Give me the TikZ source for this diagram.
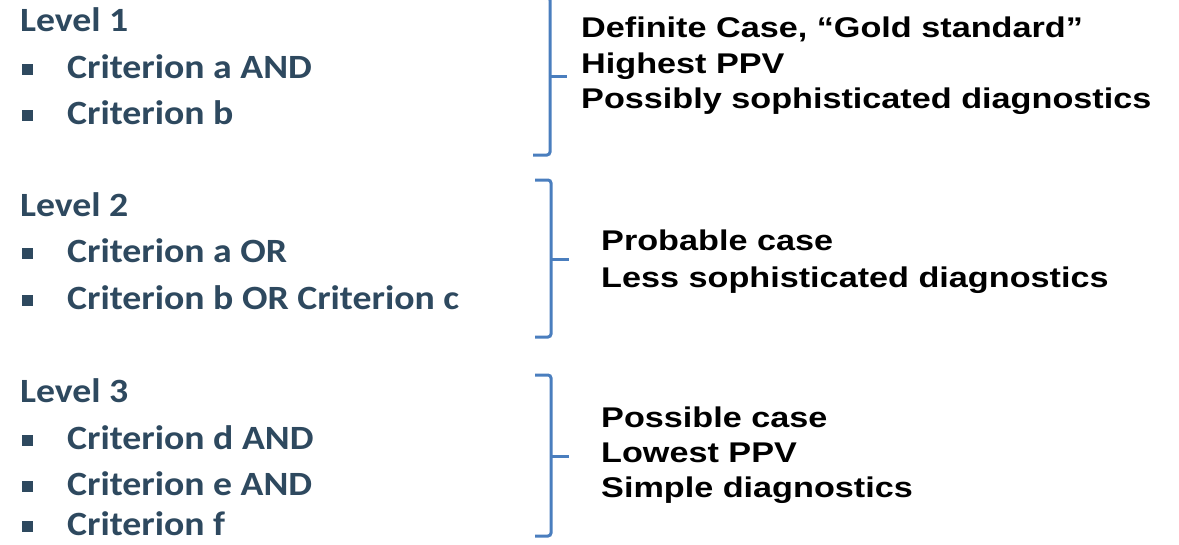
\documentclass[tikz,border=0pt]{standalone}
\usepackage{fontspec}
\newfontfamily\calib[FakeStretch=1.11]{Carlito}
\newfontfamily\arial[FakeStretch=1.2]{Liberation Sans}
\definecolor{crit}{RGB}{46,73,95}
\definecolor{brace}{RGB}{74,126,190}
\tikzset{
  lvl/.style={anchor=base west, inner sep=0pt, text=crit, font=\calib\bfseries\fontsize{34}{34}\selectfont},
  desc/.style={anchor=base west, inner sep=0pt, text=black, font=\arial\bfseries\fontsize{28.5}{28.5}\selectfont},
  bul/.style={fill=crit, minimum size=10.5pt, inner sep=0pt, draw=none},
  brc/.style={draw=brace, line width=3pt, rounded corners=3pt}
}
\begin{document}
\begin{tikzpicture}[x=1pt,y=-1pt]
\useasboundingbox (0,0) rectangle (1179,544);
% left column
\node[lvl] (l1) at (20,31) {Level 1};
\node[lvl] (c1a) at (67,78) {Criterion a AND};
\node[lvl] (c1b) at (67,124) {Criterion b};
\node[lvl] (l2) at (20,216) {Level 2};
\node[lvl] (c2a) at (67,262) {Criterion a OR};
\node[lvl] (c2b) at (67,309) {Criterion b OR Criterion c};
\node[lvl] (l3) at (20,402) {Level 3};
\node[lvl] (c3d) at (67,449) {Criterion d AND};
\node[lvl] (c3e) at (67,495) {Criterion e AND};
\node[lvl] (c3f) at (67,535) {Criterion f};
% bullets
\foreach \n/\y in {b1/78,b2/124,b3/262,b4/309,b5/449,b6/495,b7/535}
  \node[bul] (\n) at (27.5,\y-8.5) {};
% braces
\draw[brc] (533,-3) -- (550,-3) -- (550,155) -- (533,155);
\draw[brc] (550,76) -- (567,76);
\draw[brc] (535,180) -- (551,180) -- (551,337) -- (535,337);
\draw[brc] (551,259) -- (569,259);
\draw[brc] (535,375) -- (551,375) -- (551,536) -- (535,536);
\draw[brc] (551,456) -- (569,456);
% right column
\node[desc] (d1) at (581,37) {Definite Case, “Gold standard”};
\node[desc] (d2) at (581,73) {Highest PPV};
\node[desc] (d3) at (581,108) {Possibly sophisticated diagnostics};
\node[desc] (p1) at (601,250) {Probable case};
\node[desc] (p2) at (601,287) {Less sophisticated diagnostics};
\node[desc] (s1) at (601,427) {Possible case};
\node[desc] (s2) at (601,462) {Lowest PPV};
\node[desc] (s3) at (601,497) {Simple diagnostics};
\end{tikzpicture}
\end{document}
